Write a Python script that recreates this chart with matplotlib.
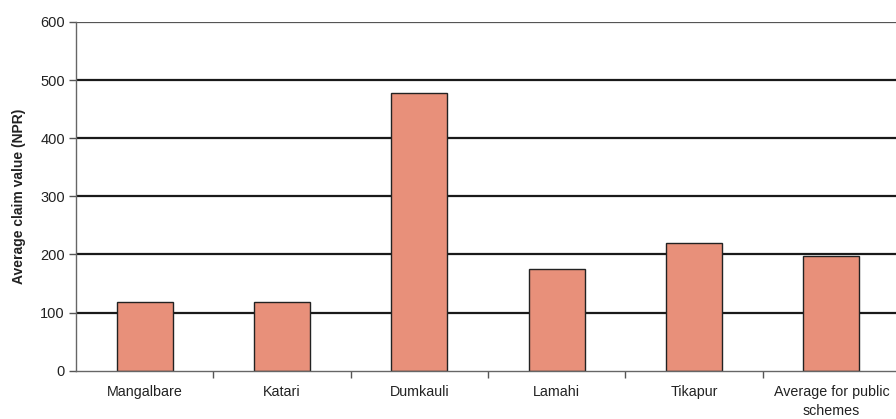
import matplotlib
matplotlib.use("Agg")
import matplotlib.pyplot as plt
import numpy as np

categories = ["Mangalbare", "Katari", "Dumkauli", "Lamahi", "Tikapur", "Average for public\nschemes"]
values = [118, 118, 477, 175, 220, 197]
yticks = [0, 100, 200, 300, 400, 500, 600]

plt.rcParams['font.family'] = ['Liberation Sans', 'DejaVu Sans']

fig = plt.figure(figsize=(8.96, 4.19), dpi=100)
ax = fig.add_axes([76/896, 48.3/419, 824/896, 348.7/419])

x = np.arange(len(categories))
for yv in yticks[1:-1]:
    ax.axhline(yv, color='#1a1a1a', lw=1.6, zorder=1)
ax.axhline(600, color='#555555', lw=0.9, zorder=1)

ax.bar(x, values, width=0.41, color='#E8907A', edgecolor='#222222', linewidth=1.0, zorder=2)

ax.set_xlim(-0.5, len(categories) - 0.5)
ax.set_ylim(0, 600)
ax.set_yticks(yticks)
ax.set_yticklabels([str(v) for v in yticks], fontsize=10.5, color='#222222')
ax.set_xticks(x)
ax.set_xticklabels(categories, fontsize=10.3, color='#222222', linespacing=1.5)
ax.tick_params(axis='x', length=0, pad=10)
ax.set_xticks(np.arange(len(categories)) + 0.5, minor=True)
ax.tick_params(axis='x', which='minor', length=5, color='#555555', width=1.0)
ax.tick_params(axis='y', length=5, color='#555555', width=1.0, pad=3)

for s in ['top', 'right']:
    ax.spines[s].set_visible(False)
ax.spines['left'].set_color('#666666')
ax.spines['bottom'].set_color('#666666')
ax.spines['left'].set_linewidth(1.0)
ax.spines['bottom'].set_linewidth(1.0)

ax.set_ylabel("Average claim value (NPR)", fontsize=10, fontweight='bold', color='#222222', labelpad=10)

fig.savefig("out.png", dpi=100)
